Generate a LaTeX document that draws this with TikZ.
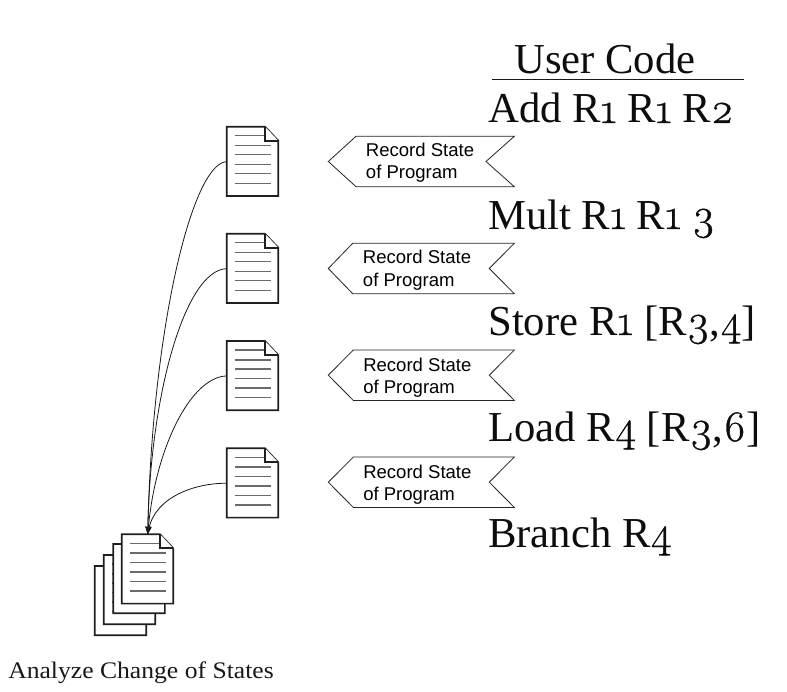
\documentclass[tikz,border=0pt]{standalone}
\usepackage{fontspec}
\setmainfont{Liberation Serif}[FakeStretch=1.08]
\newfontfamily\codefont{Liberation Serif}
\setsansfont{Liberation Sans}
\newfontfamily\osdigits{Latin Modern Roman}[Numbers=OldStyle,Scale=1.02,FakeBold=0.8]
\newcommand{\od}[1]{{\osdigits #1}}
\usetikzlibrary{arrows.meta}
\tikzset{
  x=0.75pt,y=-0.75pt,
  docbody/.style={draw=black!88,line width=1.25pt,fill=white,line join=miter},
  docline/.style={draw=black!58,line width=1.1pt},
  docanchor/.style={inner sep=0pt,minimum width=38.7pt,minimum height=52pt,anchor=north west},
  tag/.style={draw=black!85,line width=0.6pt,fill=white},
  taglabel/.style={font=\sffamily\fontsize{13.9pt}{16.6pt}\selectfont,align=left,anchor=base west,inner sep=0pt},
  code/.style={font=\codefont\fontsize{32pt}{36pt}\selectfont,anchor=base west,inner sep=0pt,text=black!95},
  capt/.style={font=\fontsize{17.8pt}{20pt}\selectfont,anchor=base west,inner sep=0pt,text=black!90},
  link/.style={draw=black!90,line width=0.6pt},
  linkarrow/.style={link,-{Stealth[length=6pt,width=4pt]}}
}
\newcommand{\docicon}[3]{%
  \node[docanchor] (#1) at (#2,#3) {};
  \draw[docbody] (#2,#3) -- ++(38.3,0) -- ++(13.3,14) -- ++(0,55.3) -- ++(-51.6,0) -- cycle;
  \foreach \dy in {9,18.8,28,37.6,47,56.6}{
    \draw[docline] (#2+7.8,#3+\dy) -- ++(36,0);
  }
  \draw[docbody] (#2+38.3,#3) -- ++(0,14) -- ++(13.3,0);
}
\newcommand{\tagshape}[3]{%
  % top y, top-left x, notch x
  \draw[tag] (328.3,#1+25.2) -- (#2,#1) -- (514.3,#1) -- (#3,#1+25.2) -- (514.3,#1+50.4) -- (#2,#1+50.4) -- cycle;
}
\begin{document}
\begin{tikzpicture}
\useasboundingbox (0,0) rectangle (787,691);
\fill[white] (0,0) rectangle (787,691);
% stacked documents
\docicon{s4}{94.7}{566}
\docicon{s3}{103.7}{555}
\docicon{s2}{113.3}{544}
\docicon{stack}{121.7}{534.3}
% individual documents
\docicon{d1}{226.7}{126.7}
\docicon{d2}{226.7}{233.7}
\docicon{d3}{226.7}{341}
\docicon{d4}{226.7}{448.3}
\draw[linkarrow] (d1.west) .. controls (192,163) and (152,330) .. (stack.north);
\draw[linkarrow] (d2.west) .. controls (185,270) and (150,395) .. (stack.north);
\draw[linkarrow] (d3.west) .. controls (190,377) and (155,450) .. (stack.north);
\draw[linkarrow] (d4.west) .. controls (195,483) and (155,497) .. (stack.north);
% tags
\tagshape{136.3}{356}{486}
\tagshape{243.3}{352.7}{489.3}
\tagshape{350}{353.3}{489.3}
\tagshape{457}{353.3}{489.3}
\node[taglabel] (l1) at (365.7,179) {Record State\\of Program};
\node[taglabel] (l2) at (362.7,286) {Record State\\of Program};
\node[taglabel] (l3) at (363,393.3) {Record State\\of Program};
\node[taglabel] (l4) at (363,500.7) {Record State\\of Program};
% code
\node[code] (uc) at (514,73.5) {User Code};
\coordinate (ruleL) at (492,79.5);
\coordinate (ruleR) at (744,79.5);
\draw[link] (ruleL) -- (ruleR);
\node[code] (c1) at (488,123) {Add R\od{1} R\od{1} R\od{2}};
\node[code] (c2) at (488,229) {Mult R\od{1} R\od{1} \od{3}};
\node[code] (c3) at (488,335) {Store R\od{1} [R\od{3},\od{4}]};
\node[code] (c4) at (488,441) {Load R\od{4} [R\od{3},\od{6}]};
\node[code] (c5) at (488,547) {Branch R\od{4}};
\node[capt] (cap) at (8,678) {Analyze Change of States};
\end{tikzpicture}
\end{document}
